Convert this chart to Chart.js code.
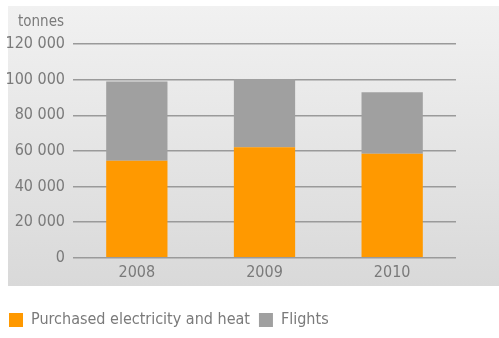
<!DOCTYPE html>
<html>
<head>
<meta charset="utf-8">
<script src="https://cdn.jsdelivr.net/npm/chart.js@4"></script>
<style>
  html, body { margin: 0; padding: 0; background: #fff; }
  #wrap { width: 499px; height: 338px; position: relative; }
</style>
</head>
<body>
<div id="wrap"><canvas id="emissionsChart" width="499" height="338"></canvas></div>
<script>
const years = ["2008", "2009", "2010"];
const electricity = [54500, 62000, 58400];
const flights = [44400, 38200, 34500];
const yTicks = [0, 20000, 40000, 60000, 80000, 100000, 120000];
const unitLabel = "tonnes";

const fontName = "'DejaVu Sans Condensed', 'Liberation Sans Narrow', sans-serif";

// grey gradient panel behind the plot + the unit label
const panelPlugin = {
  id: "panel",
  beforeDraw(chart) {
    const ctx = chart.ctx;
    const grad = ctx.createLinearGradient(0, 6, 0, 286);
    grad.addColorStop(0, "#f1f1f1");
    grad.addColorStop(1, "#d9d9d9");
    ctx.save();
    ctx.fillStyle = grad;
    ctx.fillRect(8, 6, 491, 280);
    ctx.restore();
  },
  afterDraw(chart) {
    const ctx = chart.ctx;
    ctx.save();
    ctx.font = "15px " + fontName;
    ctx.fillStyle = "#7a7a7a";
    ctx.textAlign = "right";
    ctx.textBaseline = "middle";
    ctx.fillText(unitLabel, 64, 22);
    ctx.restore();
  },
};

function formatThousands(v) {
  return String(v).replace(/\B(?=(\d{3})+(?!\d))/g, " ");
}

const chart = new Chart(document.getElementById("emissionsChart"), {
  type: "bar",
  data: {
    labels: years,
    datasets: [
      {
        label: "Purchased electricity and heat",
        data: electricity,
        backgroundColor: "#ff9900",
        categoryPercentage: 1,
        barPercentage: 0.48,
      },
      {
        label: "Flights",
        data: flights,
        backgroundColor: "#a0a0a0",
        categoryPercentage: 1,
        barPercentage: 0.48,
      },
    ],
  },
  options: {
    responsive: false,
    animation: false,
    layout: { padding: { left: 0, top: 44, right: 43, bottom: 0 } },
    scales: {
      x: {
        stacked: true,
        grid: { display: false },
        border: { display: false },
        afterFit(scale) { scale.height += 24; },
        ticks: { color: "#7a7a7a", font: { family: fontName, size: 16 }, padding: -3 },
      },
      y: {
        stacked: true,
        min: 0,
        max: 120000,
        afterFit(scale) { scale.width = 73; },
        afterBuildTicks(scale) { scale.ticks = yTicks.map((v) => ({ value: v })); },
        grid: { color: "#9a9a9a", lineWidth: 1.5, drawTicks: false },
        border: { display: false },
        ticks: {
          color: "#7a7a7a",
          font: { family: fontName, size: 16 },
          padding: 8,
          callback: (v) => formatThousands(v),
        },
      },
    },
    plugins: {
      legend: {
        position: "bottom",
        align: "start",
        labels: {
          color: "#7a7a7a",
          font: { family: fontName, size: 16 },
          boxWidth: 14,
          boxHeight: 14,
          padding: 9,
        },
      },
      tooltip: { enabled: false },
    },
  },
  plugins: [panelPlugin],
});
</script>
</body>
</html>
